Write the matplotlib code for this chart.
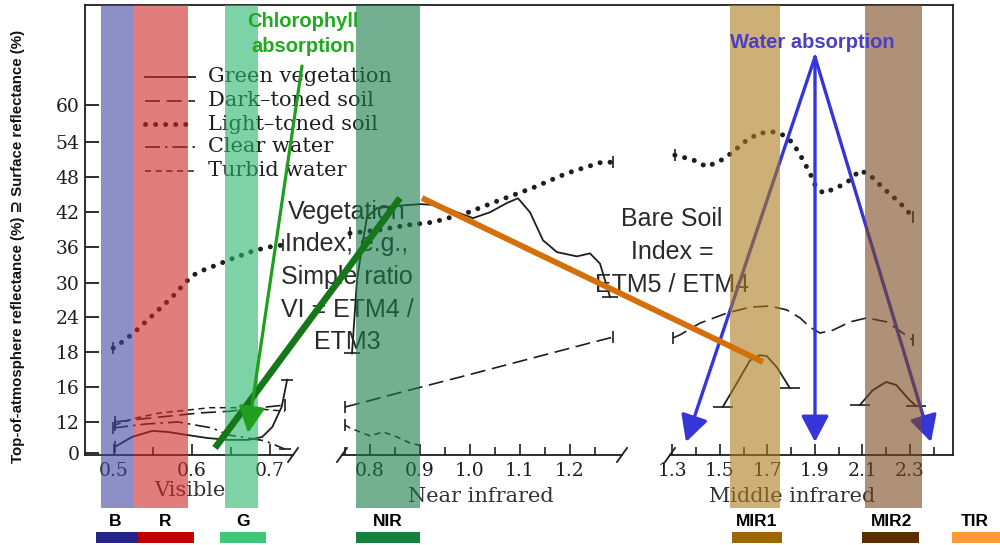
import numpy as np
import matplotlib
matplotlib.use("Agg")
import matplotlib.pyplot as plt
from matplotlib.patches import Rectangle
from matplotlib.ticker import FixedLocator, FixedFormatter, NullFormatter

# ---------------- data (wavelength in µm, reflectance in %) ----------------
# Visible region
vis_veg_wl = [0.501, 0.523, 0.549, 0.569, 0.595, 0.620, 0.646, 0.672, 0.690, 0.703, 0.715, 0.722]
vis_veg_r = [2.4, 6.2, 8.5, 8.1, 6.9, 5.8, 5.1, 5.1, 6.2, 10.0, 13.7, 16.4]
vis_dsoil_wl = [0.501, 0.533, 0.572, 0.610, 0.649, 0.687, 0.719]
vis_dsoil_r = [11.9, 12.3, 12.65, 13.0, 13.2, 13.6, 13.9]
vis_lsoil_wl = [0.499, 0.514, 0.529, 0.546, 0.563, 0.574, 0.587, 0.600, 0.614, 0.632, 0.653, 0.674, 0.696, 0.717]
vis_lsoil_r = [18.6, 20.0, 21.7, 23.8, 26.0, 27.4, 29.4, 31.2, 32.1, 33.0, 34.1, 35.1, 35.9, 36.3]
vis_cwater_wl = [0.499, 0.540, 0.582, 0.626, 0.646, 0.672, 0.694, 0.719]
vis_cwater_r = [9.6, 11.1, 11.9, 9.6, 7.0, 5.8, 4.7, 1.6]
vis_twater_wl = [0.501, 0.527, 0.559, 0.591, 0.623, 0.655, 0.687, 0.719]
vis_twater_r = [10.75, 12.4, 13.0, 13.3, 13.6, 13.6, 13.45, 13.2]

# Near infrared region
nir_veg_wl = [0.764, 0.774, 0.784, 0.794, 0.814, 0.854, 0.900, 0.940, 0.974, 1.006, 1.040,
              1.074, 1.096, 1.120, 1.146, 1.174, 1.214, 1.240, 1.260, 1.274, 1.280]
nir_veg_r = [17.9, 30.5, 36.0, 41.1, 42.6, 43.0, 43.3, 43.1, 41.9, 40.9, 41.9,
             43.5, 44.3, 41.9, 37.1, 35.1, 34.4, 34.9, 33.2, 29.3, 27.5]
nir_dsoil_wl = [0.750, 0.800, 0.860, 0.920, 0.980, 1.040, 1.100, 1.180, 1.240, 1.286]
nir_dsoil_r = [13.68, 14.42, 15.33, 16.11, 16.55, 17.0, 17.45, 18.15, 19.5, 20.5]
nir_lsoil_wl = [0.760, 0.820, 0.874, 0.926, 0.994, 1.060, 1.126, 1.194, 1.260, 1.286]
nir_lsoil_r = [38.3, 38.9, 39.7, 40.2, 41.8, 44.0, 46.1, 48.6, 50.4, 50.5]
nir_twater_wl = [0.750, 0.760, 0.800, 0.826, 0.854, 0.880, 0.904]
nir_twater_r = [10.75, 9.6, 6.6, 8.1, 6.2, 3.9, 2.8]

# Middle infrared region
mir_lsoil_wl = [1.310, 1.386, 1.445, 1.508, 1.550, 1.614, 1.668, 1.723, 1.765, 1.807, 1.849,
                1.879, 1.900, 1.934, 1.993, 2.047, 2.089, 2.131, 2.186, 2.258, 2.312]
mir_lsoil_r = [51.7, 50.9, 49.7, 50.9, 52.1, 54.3, 55.4, 55.6, 55.1, 53.8, 50.9,
               48.6, 46.6, 45.2, 46.1, 47.4, 49.1, 48.3, 46.1, 43.5, 41.1]
mir_dsoil_wl = [1.302, 1.332, 1.416, 1.530, 1.626, 1.710, 1.782, 1.837, 1.879, 1.921, 1.976,
                2.047, 2.119, 2.203, 2.270, 2.312]
mir_dsoil_r = [20.35, 20.9, 22.9, 24.66, 25.7, 25.9, 25.2, 23.8, 22.2, 21.2, 21.7,
               23.1, 23.8, 23.1, 21.2, 20.0]
mir_veg1_wl = [1.512, 1.571, 1.626, 1.668, 1.697, 1.740, 1.794]
mir_veg1_r = [13.7, 16.2, 17.5, 17.8, 17.75, 17.1, 15.85]
mir_veg2_wl = [2.089, 2.143, 2.200, 2.242, 2.297, 2.326]
mir_veg2_r = [13.9, 15.6, 16.27, 16.1, 14.5, 13.8]

y_ticks = [0, 12, 16, 18, 24, 30, 36, 42, 48, 54, 60]
y_ticklabels = ["0", "12", "16", "18", "24", "30", "36", "42", "48", "54", "60"]
vis_major = [0.5, 0.6, 0.7]
vis_minor = [0.55, 0.65]
nir_major = [0.8, 0.9, 1.0, 1.1, 1.2]
nir_minor = [0.75, 0.85, 0.95, 1.05, 1.15, 1.25]
mir_major = [1.3, 1.5, 1.7, 1.9, 2.1, 2.3]
mir_minor = [1.4, 1.6, 1.8, 2.0, 2.2, 2.4]

legend_labels = ["Green vegetation", "Dark\u2013toned soil", "Light\u2013toned soil",
                 "Clear water", "Turbid water"]
band_names = ["B", "R", "G", "NIR", "MIR1", "MIR2", "TIR"]

# ---------------- figure ----------------
W, H = 1000, 545
fig = plt.figure(figsize=(W / 100, H / 100), dpi=100)

SERIF = ["DejaVu Serif"]
SANS = ["Liberation Sans", "DejaVu Sans"]
INK = "#1e1e1e"


def px_axes(x0, x1, y0, y1, z):
    ax = fig.add_axes([x0 / W, 1 - y1 / H, (x1 - x0) / W, (y1 - y0) / H])
    ax.set_zorder(z)
    return ax


def overlay(z):
    ax = px_axes(0, W, 0, H, z)
    ax.set_xlim(0, W)
    ax.set_ylim(H, 0)
    ax.axis("off")
    return ax


# piecewise y scale of the original figure
KV = np.array([-0.6, 0, 12, 16, 18, 24, 30, 36, 42, 48, 54, 60, 77.5])
KP = np.array([455, 453.3, 421.7, 386.7, 351.7, 316.7, 283, 246.7, 211.7, 176.7, 141.7, 105, 5])


def yfwd(v):
    return np.interp(v, KV, -KP)


def yinv(p):
    return np.interp(p, -KP, KV)


back = overlay(1)
bands = overlay(3)
front = overlay(4)

# line styles
ST = {
    "veg": dict(color=INK, lw=1.3, ls="-"),
    "dsoil": dict(color=INK, lw=1.2, ls=(0, (9, 4))),
    "lsoil": dict(color=INK, lw=3.6, ls=(0, (0.01, 2.0)), dash_capstyle="round"),
    "cwater": dict(color=INK, lw=1.2, ls=(0, (9, 3, 1.5, 3))),
    "twater": dict(color=INK, lw=1.1, ls=(0, (4, 3))),
}


def make_axes(x0, x1, xlim, major, minor, left=False, right=False):
    ax = px_axes(x0, x1, 5, 455, 2)
    ax.patch.set_alpha(0)
    ax.set_yscale("function", functions=(yfwd, yinv))
    ax.set_ylim(-0.6, 77.5)
    ax.set_xlim(*xlim)
    for s in ("top", "left", "right"):
        ax.spines[s].set_visible(False)
    ax.spines["bottom"].set_color(INK)
    ax.spines["bottom"].set_linewidth(1.3)
    if left:
        ax.spines["left"].set_visible(True)
        ax.spines["left"].set_color(INK)
        ax.spines["left"].set_linewidth(1.3)
        ax.yaxis.set_major_locator(FixedLocator(y_ticks))
        ax.yaxis.set_major_formatter(FixedFormatter(y_ticklabels))
        ax.yaxis.set_minor_locator(FixedLocator([]))
        ax.tick_params(axis="y", direction="in", length=10, width=1.3, color=INK,
                       pad=4, labelsize=13.5, labelcolor=INK)
        for t in ax.get_yticklabels():
            t.set_family(SERIF)
    else:
        ax.yaxis.set_major_locator(FixedLocator([]))
        ax.yaxis.set_minor_locator(FixedLocator([]))
    if right:
        ax.spines["right"].set_visible(True)
        ax.spines["right"].set_color(INK)
        ax.spines["right"].set_linewidth(1.3)
    ax.xaxis.set_major_locator(FixedLocator(major))
    ax.xaxis.set_minor_locator(FixedLocator(minor))
    ax.xaxis.set_minor_formatter(NullFormatter())
    ax.tick_params(axis="x", which="major", direction="in", length=8, width=1.2, color=INK,
                   pad=5, labelsize=13.5, labelcolor=INK)
    ax.tick_params(axis="x", which="minor", direction="in", length=5.5, width=1.2, color=INK)
    for t in ax.get_xticklabels():
        t.set_family(SERIF)
    return ax


vis = make_axes(85, 293, (0.4628, 0.7295), vis_major, vis_minor, left=True)
nir = make_axes(342, 622, (0.744, 1.304), nir_major, nir_minor)
mir = make_axes(670, 953, (1.2895, 2.4812), mir_major, mir_minor, right=True)


def curve(ax, wl, r, key, caps=None, capsize=9):
    ax.plot(wl, r, **ST[key], zorder=3)
    if caps:
        for idx, m in caps:
            ax.plot([wl[idx]], [r[idx]], marker=m, ms=capsize, mew=1.2, color=INK, ls="none", zorder=3)


curve(vis, vis_lsoil_wl, vis_lsoil_r, "lsoil", [(0, "|"), (-1, "|")])
curve(vis, vis_veg_wl, vis_veg_r, "veg", [(0, "|"), (-1, "_")])
curve(vis, vis_dsoil_wl, vis_dsoil_r, "dsoil", [(0, "|"), (-1, "|")])
curve(vis, vis_cwater_wl, vis_cwater_r, "cwater", [(0, "|"), (-1, "_")])
curve(vis, vis_twater_wl, vis_twater_r, "twater", [(0, "|")])

curve(nir, nir_veg_wl, nir_veg_r, "veg", [(0, "_"), (-1, "_")], 12)
curve(nir, nir_dsoil_wl, nir_dsoil_r, "dsoil", [(0, "|"), (-1, "|")])
curve(nir, nir_lsoil_wl, nir_lsoil_r, "lsoil", [(0, "|"), (-1, "|")])
curve(nir, nir_twater_wl, nir_twater_r, "twater", [(0, "|")])

curve(mir, mir_lsoil_wl, mir_lsoil_r, "lsoil", [(0, "|"), (-1, "|")])
curve(mir, mir_dsoil_wl, mir_dsoil_r, "dsoil", [(0, "|"), (-1, "|")])
curve(mir, mir_veg1_wl, mir_veg1_r, "veg", [(0, "_"), (-1, "_")], 14)
curve(mir, mir_veg2_wl, mir_veg2_r, "veg", [(0, "_"), (-1, "_")], 14)

# ---------------- back layer: frame, legend, axis titles ----------------
back.plot([85, 953], [5, 5], color=INK, lw=1.3)
for bx in (293, 342, 622, 670):
    back.plot([bx - 5, bx + 5], [462, 448], color=INK, lw=1.3)

leg_y = [77, 101, 124, 147, 171]
for key, lab, yy in zip(["veg", "dsoil", "lsoil", "cwater", "twater"], legend_labels, leg_y):
    back.plot([145, 195], [yy, yy], **ST[key])
    back.text(208, yy, lab, family=SERIF, fontsize=15, color=INK, va="center", ha="left")

back.text(190, 490, "Visible", family=SERIF, fontsize=15, color="#333333", ha="center", va="center")
back.text(481, 496, "Near infrared", family=SERIF, fontsize=15, color="#333333", ha="center", va="center")
back.text(792, 497, "Middle infrared", family=SERIF, fontsize=15, color="#333333", ha="center", va="center")

fig.text(18 / W, 1 - 246 / H, "Top-of-atmosphere reflectance (%) \u2287 Surface reflectance (%)",
         rotation=90, family=SANS, fontweight="bold", fontsize=10.8, ha="center", va="center",
         color="#111111")

# ---------------- band layer (texts & blue arrows under semi-transparent bands) ----------------
TXT = "#2a2a2a"
bands.text(347, 277, "Vegetation\nIndex, e.g.,\nSimple ratio\nVI = ETM4 /\nETM3", family=SANS,
           fontsize=18, color=TXT, ha="center", va="center", linespacing=1.45, zorder=1)
bands.text(672, 252, "Bare Soil\nIndex =\nETM5 / ETM4", family=SANS,
           fontsize=18, color=TXT, ha="center", va="center", linespacing=1.5, zorder=1)

BLUE = "#3535d8"
for tip in [(686, 442), (815, 442), (931, 442)]:
    bands.annotate("", xy=tip, xytext=(815, 57),
                   arrowprops=dict(arrowstyle="-|>,head_length=0.8,head_width=0.42", lw=2.4,
                                   color=BLUE, shrinkA=0, shrinkB=0, mutation_scale=20),
                   zorder=1)

band_spans = [(101, 133), (133, 188), (225, 258), (356, 420), (730, 780), (865, 922)]
band_fill = ["#4444a3", "#cd2626", "#26b769", "#167a48", "#ac7a1e", "#7a481e"]
for (x0, x1), c in zip(band_spans, band_fill):
    bands.add_patch(Rectangle((x0, 5), x1 - x0, 503, facecolor=c, edgecolor="none",
                              alpha=0.6, zorder=2))

# ---------------- front layer ----------------
front.plot([215, 400], [448, 198], color="#15771a", lw=4.8, solid_capstyle="butt")
front.annotate("", xy=(248, 433), xytext=(302, 66),
               arrowprops=dict(arrowstyle="-|>,head_length=0.8,head_width=0.4", lw=2.3,
                               color="#1ea01e", shrinkA=0, shrinkB=0, mutation_scale=20))
front.plot([422, 763], [198, 362], color="#d4700a", lw=4.2, solid_capstyle="butt")

front.text(303, 34, "Chlorophyll\nabsorption", family=SANS, fontweight="bold", fontsize=14.5,
           color="#1faa1f", ha="center", va="center", linespacing=1.4)
front.text(812, 43, "Water absorption", family=SANS, fontweight="bold", fontsize=14.5,
           color="#4b3fc4", ha="center", va="center")

bar_spans = [(96, 138), (138, 194), (220, 266), (356, 420), (732, 782), (862, 919), (952, 1000)]
bar_cols = ["#23238c", "#c00000", "#3cc878", "#14823c", "#9c6600", "#5c2e00", "#ff9933"]
label_x = [115, 165, 243, 388, 757, 892, 975]
for (x0, x1), c, name, lx in zip(bar_spans, bar_cols, band_names, label_x):
    front.add_patch(Rectangle((x0, 532), x1 - x0, 11, facecolor=c, edgecolor="none"))
    front.text(lx, 521, name, family=SANS, fontweight="bold", fontsize=12.5, color="black",
               ha="center", va="center")

fig.savefig("out.png", dpi=100)
